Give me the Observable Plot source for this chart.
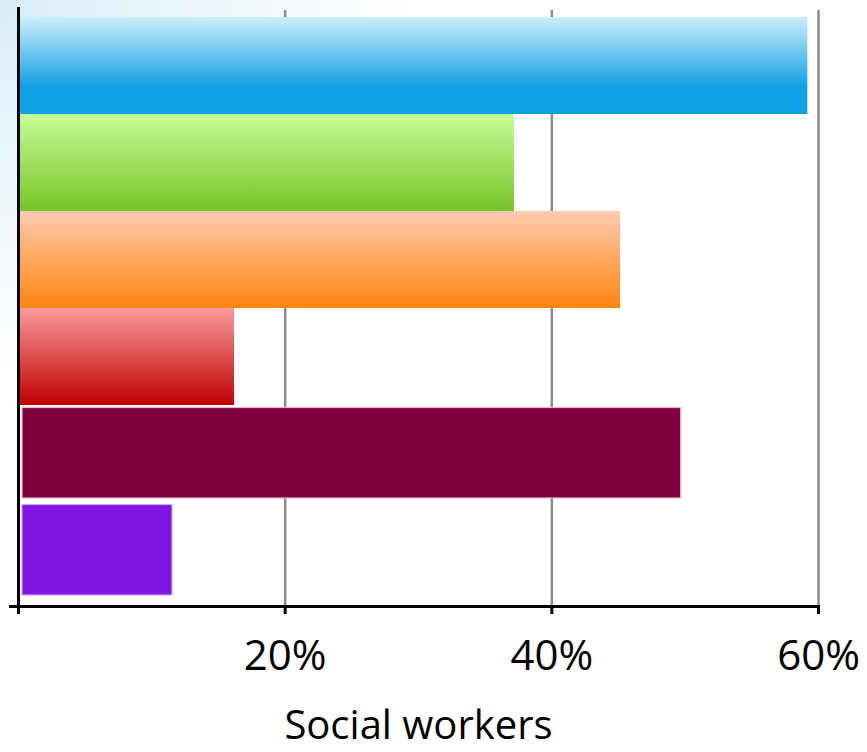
<!DOCTYPE html>
<html>
<head>
<meta charset="utf-8">
<script src="https://cdn.jsdelivr.net/npm/d3@7"></script>
<script src="https://cdn.jsdelivr.net/npm/@observablehq/plot@0.6"></script>
<style>
  html, body { margin: 0; padding: 0; }
  body {
    width: 867px; height: 752px; overflow: hidden;
    background: radial-gradient(ellipse 420px 380px at 0px 0px, #d8edf7 0%, #eef7fb 50%, #ffffff 100%);
    font-family: "Open Sans", sans-serif;
  }
</style>
</head>
<body>
<div id="chart"></div>
<script>
// Data
const categories = ["Group 1", "Group 2", "Group 3", "Group 4", "Group 5", "Group 6"];
const values = [0.592, 0.372, 0.4515, 0.162, 0.497, 0.1155];
const xTicks = [0, 0.2, 0.4, 0.6];
const axisLabel = "Social workers";

// Styles (separate from data)
const gradients = [
  {id: "g0", stops: [[0, "#cdeefb"], [0.72, "#10a0e4"], [1, "#10a0e4"]]},
  {id: "g1", stops: [[0, "#c4fc96"], [1, "#78c428"]]},
  {id: "g2", stops: [[0, "#ffcbb0"], [1, "#ff8410"]]},
  {id: "g3", stops: [[0, "#fa9b9b"], [1, "#c00000"]]}
];
const fills = ["url(#g0)", "url(#g1)", "url(#g2)", "url(#g3)", "#800040", "#8015e0"];
const strokes = ["none", "none", "none", "none", "#e9b4d2", "#cfa6f7"];

const table = categories.map((c, i) => ({category: c, value: values[i], fill: fills[i], stroke: strokes[i], i}));
const gradTable = table.filter(d => d.i < 4);
const solidTable = table.filter(d => d.i >= 4);

function defsMark() {
  const defs = d3.create("svg:defs");
  for (const g of gradients) {
    const lg = defs.append("linearGradient").attr("id", g.id)
      .attr("x1", 0).attr("y1", 0).attr("x2", 0).attr("y2", 1);
    for (const [o, c] of g.stops) lg.append("stop").attr("offset", o).attr("stop-color", c);
  }
  return defs.node();
}

const chart = Plot.plot({
  width: 867,
  height: 752,
  marginLeft: 18,
  marginRight: 49,
  marginTop: 10,
  marginBottom: 146,
  style: {background: "none", fontFamily: "'Open Sans', sans-serif", overflow: "visible"},
  x: {domain: [0, 0.6], axis: null},
  y: {domain: categories, axis: null, paddingInner: 0, paddingOuter: 0.07},
  color: {type: "identity"},
  marks: [
    defsMark,
    Plot.gridX(xTicks.slice(1), {stroke: "#8c8c8c", strokeOpacity: 1, strokeWidth: 2.5}),
    Plot.barX(gradTable, {x: "value", y: "category", fill: "fill"}),
    Plot.barX(solidTable, {x: "value", y: "category", fill: "fill", stroke: "stroke", strokeWidth: 1.2,
      insetLeft: 4, insetTop: 2.5, insetBottom: 4}),
    Plot.ruleX([0], {stroke: "black", strokeWidth: 3, insetTop: -3, insetBottom: -8}),
    Plot.frame({anchor: "bottom", stroke: "black", strokeWidth: 3, insetLeft: -8}),
    Plot.axisX(xTicks, {
      anchor: "bottom",
      tickSize: 8,
      stroke: "black",
      strokeWidth: 3,
      tickPadding: 26,
      fontSize: 42,
      fill: "black",
      tickFormat: d => d === 0 ? "" : d3.format(".0%")(d),
      label: null
    }),
    Plot.text([axisLabel], {frameAnchor: "bottom", text: d => d, dy: 132, fontSize: 40, fill: "black"})
  ]
});
document.getElementById("chart").appendChild(chart);
</script>
</body>
</html>
